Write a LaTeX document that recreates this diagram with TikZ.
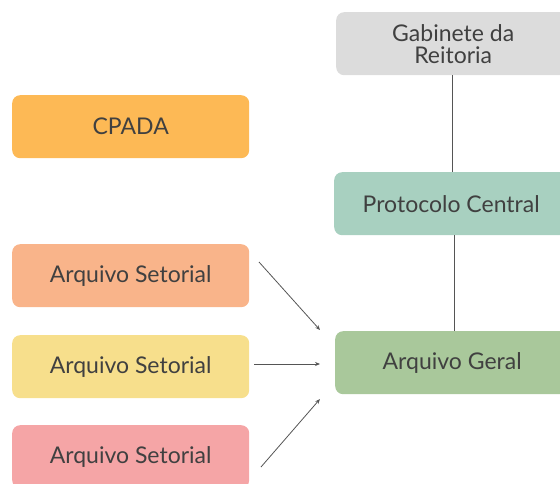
\documentclass[tikz,border=0pt]{standalone}
\usepackage{fontspec}
\setmainfont{Lato}
\usetikzlibrary{arrows.meta}
\definecolor{txt}{HTML}{404040}
\definecolor{cpada}{HTML}{FDB955}
\definecolor{setA}{HTML}{F9B48A}
\definecolor{setB}{HTML}{F7DF8C}
\definecolor{setC}{HTML}{F5A5A6}
\definecolor{gab}{HTML}{DCDCDC}
\definecolor{prot}{HTML}{A8D0C0}
\definecolor{geral}{HTML}{A9C89B}
\definecolor{wire}{HTML}{555555}
\tikzset{
  box/.style={rounded corners=8pt, minimum height=63pt, inner sep=0pt,
    text=txt, font=\fontsize{23}{22}\selectfont, align=center, anchor=north west},
  leftbox/.style={box, minimum width=237pt},
  rightbox/.style={box, minimum width=234pt},
  link/.style={draw=wire, line width=0.9pt},
  feed/.style={draw=wire, line width=0.8pt, -{Stealth[length=5pt,width=4pt]}}
}
\begin{document}
\begin{tikzpicture}[x=1pt,y=-1pt]
\useasboundingbox (0,0) rectangle (560,484);
\clip (0,0) rectangle (560,484);
% left column
\node[leftbox, fill=cpada] (cpada) at (12,95) {CPADA};
\node[leftbox, fill=setA] (s1) at (12,244) {Arquivo Setorial};
\node[leftbox, fill=setB] (s2) at (12,335) {Arquivo Setorial};
\node[leftbox, fill=setC] (s3) at (12,425) {Arquivo Setorial};
% right column
\node[rightbox, fill=gab] (gab) at (336,12) {Gabinete da\\Reitoria};
\node[rightbox, fill=prot] (prot) at (334,172) {Protocolo Central};
\node[rightbox, fill=geral] (geral) at (335,331) {Arquivo Geral};
% vertical links
\draw[link] (gab.south -| 452,0) -- (prot.north -| 452,0);
\draw[link] (prot.south -| 454,0) -- (geral.north -| 454,0);
% arrow ends
\coordinate (f1) at (259,262);
\coordinate (t1) at (320,330);
\coordinate (f2) at (254,364);
\coordinate (t2) at (320,364);
\coordinate (f3) at (261,467);
\coordinate (t3) at (320,399);
\draw[feed] (f1) -- (t1);
\draw[feed] (f2) -- (t2);
\draw[feed] (f3) -- (t3);
\end{tikzpicture}
\end{document}
